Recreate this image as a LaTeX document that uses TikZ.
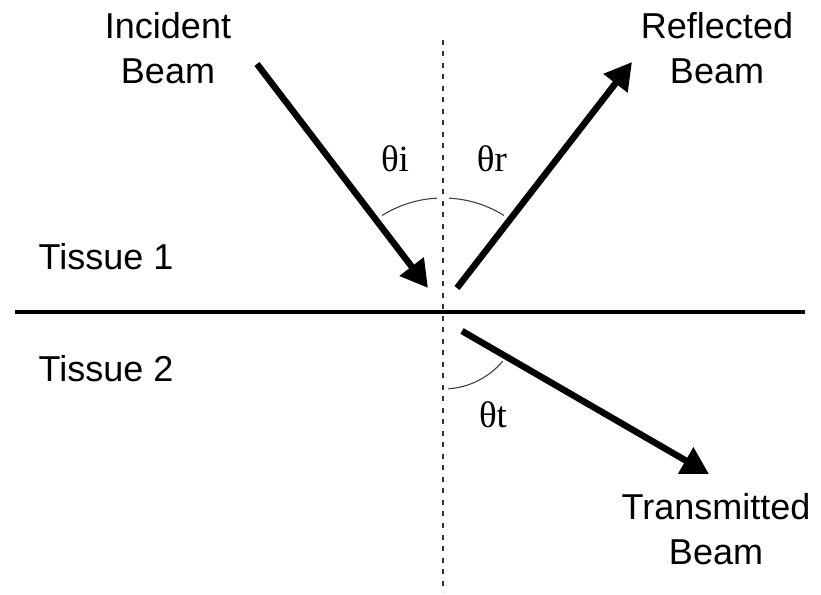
\documentclass[tikz,border=0pt]{standalone}
\usepackage{fontspec}
\setmainfont{Liberation Sans}
\newfontfamily\thetafont{Liberation Serif}
\usetikzlibrary{arrows.meta}
\begin{document}
\begin{tikzpicture}[x=1pt,y=1pt,
  lbl/.style={font=\fontsize{36}{45}\selectfont, inner sep=0pt, align=center},
  ang/.style={font=\thetafont\fontsize{37}{44}\selectfont, inner sep=0pt, anchor=base},
  beam/.style={line width=6.5pt, -{Triangle[length=27pt,width=29pt]}},
  arcline/.style={line width=1.1pt, black!75},
  normal/.style={line width=1.6pt, black!80, dash pattern=on 5pt off 6.5pt},
  boundary/.style={line width=3.6pt}]
\useasboundingbox (0,0) rectangle (821,594);
% interface and normal
\coordinate (O) at (443,281);
\coordinate (nTop) at (443,554);
\coordinate (nBot) at (443,2);
\coordinate (bL) at (15,282);
\coordinate (bR) at (805,282);
\draw[normal] (nTop) -- (nBot);
\draw[boundary] (bL) -- (bR);
% beams
\coordinate (inS) at (257,530);
\coordinate (inE) at (428,306);
\coordinate (reS) at (457,306);
\coordinate (reE) at (632,532);
\coordinate (trS) at (462,263);
\coordinate (trE) at (709,120);
\draw[beam] (inS) -- (inE);
\draw[beam] (reS) -- (reE);
\draw[beam] (trS) -- (trE);
% angle arcs
\draw[arcline] ([shift={(122:115)}]O) arc[start angle=122, end angle=93, radius=115];
\draw[arcline] ([shift={(87:115)}]O) arc[start angle=87, end angle=58, radius=115];
\draw[arcline] ([shift={(-86:78)}]443,283) arc[start angle=-86, end angle=-40, radius=78];
% labels
\node[lbl, anchor=north] (incident) at (168,582) {Incident\\Beam};
\node[lbl, anchor=north] (reflected) at (717,582) {Reflected\\Beam};
\node[lbl, anchor=north] (transmitted) at (716,101) {Transmitted\\Beam};
\node[lbl, anchor=base] (tissueA) at (106,324) {Tissue 1};
\node[lbl, anchor=base] (tissueB) at (106,212) {Tissue 2};
\node[ang] (thi) at (395,422) {θi};
\node[ang] (thr) at (492,422) {θr};
\node[ang] (tht) at (493,166) {θt};
\end{tikzpicture}
\end{document}
